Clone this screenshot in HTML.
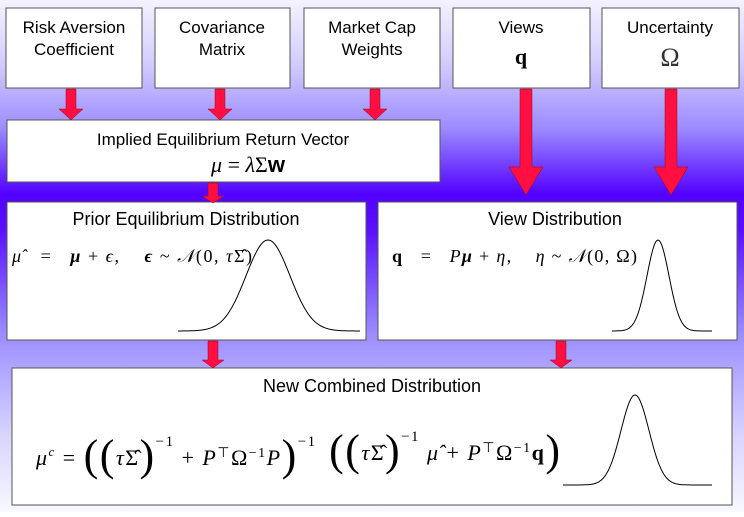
<!DOCTYPE html>
<html><head><meta charset="utf-8"><style>
html,body{margin:0;padding:0}
body{width:744px;height:512px;overflow:hidden;font-family:"Liberation Sans",sans-serif}
text.s{font-family:"Liberation Sans",sans-serif}
text.m{font-family:"Liberation Serif",serif}
</style></head><body>
<svg width="744" height="512" viewBox="0 0 744 512">
<defs>
<linearGradient id="bg" x1="0" y1="0" x2="0" y2="1">
<stop offset="0" stop-color="#f4f2ff"/>
<stop offset="0.12" stop-color="#d4ceff"/>
<stop offset="0.25" stop-color="#9c8cff"/>
<stop offset="0.38" stop-color="#5200ff"/>
<stop offset="0.45" stop-color="#5a10ff"/>
<stop offset="0.65" stop-color="#9a8cff"/>
<stop offset="0.85" stop-color="#d8d4ff"/>
<stop offset="1" stop-color="#f8f8ff"/>
</linearGradient>
</defs>
<rect width="744" height="512" fill="url(#bg)"/>
<g stroke="#555" stroke-width="1" fill="#fff">
<rect x="6" y="8" width="136" height="80"/>
<rect x="155" y="8" width="135" height="80"/>
<rect x="304" y="8" width="136" height="80"/>
<rect x="453" y="8" width="137" height="80"/>
<rect x="602" y="8" width="137" height="80"/>
<rect x="7" y="120" width="433" height="62"/>
<rect x="7" y="202" width="359" height="138"/>
<rect x="378" y="202" width="359" height="138"/>
<rect x="12" y="368" width="720" height="137"/>
</g>
<g fill="#ff1040" stroke="#a00020" stroke-width="0.5">
<path d="M66 89h10v20h7l-12 11-12-11h7z"/>
<path d="M215 89h10v20h7l-12 11-12-11h7z"/>
<path d="M370 89h10v20h7l-12 11-12-11h7z"/>
<path d="M520 89h12v78h11l-17 28-17-28h11z"/>
<path d="M665 89h12v78h11l-17 28-17-28h11z"/>
<path d="M208 183h10v13h6l-11 7-11-7h6z"/>
<path d="M208 341h10v19h6l-11 8-11-8h6z"/>
<path d="M556 341h10v19h6l-11 8-11-8h6z"/>
</g>
<g font-size="17" fill="#000" text-anchor="middle">
<text class="s" x="74" y="33">Risk Aversion</text>
<text class="s" x="74" y="55">Coefficient</text>
<text class="s" x="222" y="33">Covariance</text>
<text class="s" x="222" y="55">Matrix</text>
<text class="s" x="372" y="33">Market Cap</text>
<text class="s" x="372" y="55">Weights</text>
<text class="s" x="521" y="33">Views</text>
<text class="m" x="521" y="64" font-weight="bold" font-size="22">q</text>
<text class="s" x="670" y="33">Uncertainty</text>
<text class="m" x="670" y="66" font-size="26" fill="#333">Ω</text>
<text class="s" x="223" y="145">Implied Equilibrium Return Vector</text>
<text class="m" x="248" y="172" font-size="22"><tspan font-style="italic">μ</tspan> = <tspan font-style="italic">λ</tspan>Σ<tspan font-family="Liberation Sans" font-weight="bold">w</tspan></text>
<text class="s" x="186" y="225" font-size="18">Prior Equilibrium Distribution</text>
<text class="s" x="555" y="225" font-size="18">View Distribution</text>
<text class="s" x="372" y="392" font-size="18">New Combined Distribution</text>
</g>
<g font-size="18" fill="#000">
<text class="m" x="12" y="262" textLength="240" lengthAdjust="spacing" xml:space="preserve"><tspan font-style="italic">μ̂</tspan>   =   <tspan font-style="italic" font-weight="bold">μ</tspan> + <tspan font-style="italic">ϵ</tspan>,    <tspan font-style="italic" font-weight="bold">ϵ</tspan> ~ <tspan font-style="italic">𝒩</tspan>(0, <tspan font-style="italic">τ</tspan>Σ̂)</text>
<text class="m" x="392" y="262" textLength="245" lengthAdjust="spacing" xml:space="preserve"><tspan font-weight="bold">q</tspan>   =   <tspan font-style="italic">P</tspan><tspan font-style="italic" font-weight="bold">μ</tspan> + <tspan font-style="italic">η</tspan>,    <tspan font-style="italic">η</tspan> ~ <tspan font-style="italic">𝒩</tspan>(0, Ω)</text>
<text class="m" x="36" y="465" font-size="22" textLength="524" lengthAdjust="spacing" xml:space="preserve"><tspan font-style="italic">μ</tspan><tspan font-size="13" dy="-9" font-style="italic">c</tspan><tspan dy="9"> = </tspan><tspan font-size="44" dy="5">((</tspan><tspan dy="-5" font-style="italic">τ</tspan>Σ̂<tspan font-size="44" dy="5">)</tspan><tspan font-size="15" dy="-24">−1</tspan><tspan dy="19"> + </tspan><tspan font-style="italic">P</tspan><tspan font-size="14" dy="-8">⊤</tspan><tspan dy="8">Ω</tspan><tspan font-size="14" dy="-8">−1</tspan><tspan dy="8" font-style="italic">P</tspan><tspan font-size="44" dy="5">)</tspan><tspan font-size="15" dy="-24">−1</tspan><tspan font-size="44" dy="19"> ((</tspan><tspan dy="-5" font-style="italic">τ</tspan>Σ̂<tspan font-size="44" dy="5">)</tspan><tspan font-size="15" dy="-24">−1</tspan><tspan dy="19" font-style="italic"> μ̂</tspan> + <tspan font-style="italic">P</tspan><tspan font-size="14" dy="-8">⊤</tspan><tspan dy="8">Ω</tspan><tspan font-size="14" dy="-8">−1</tspan><tspan dy="8" font-weight="bold">q</tspan><tspan font-size="44" dy="5">)</tspan></text>
</g>
<g id="curves" fill="none" stroke="#000" stroke-width="1"></g>
</svg>
<script>
const curveSpecs=[["prior-bell-curve",178,360,268,331,240,22],["view-bell-curve",612,712,658,331,240,11],["combined-bell-curve",563,712,635,485,395,14]];
const g=document.getElementById('curves');
curveSpecs.forEach(c=>{
 const [name,x0,x1,mu,base,peak,s]=c;let d='';
 for(let x=x0;x<=x1;x++){const y=base-(base-peak)*Math.exp(-0.5*((x-mu)/s)**2);d+=(x===x0?'M':'L')+x+' '+y.toFixed(1);}
 const p=document.createElementNS('http://www.w3.org/2000/svg','path');
 p.setAttribute('d',d);
 
 
 g.appendChild(p);
});
</script>
</body></html>
